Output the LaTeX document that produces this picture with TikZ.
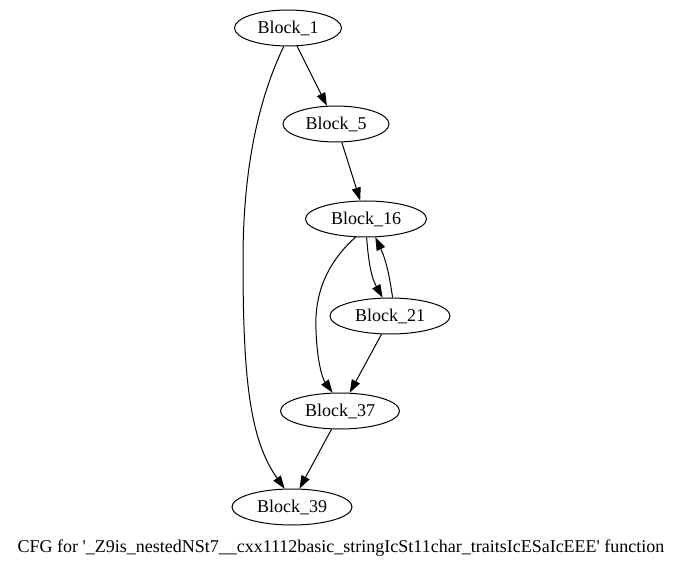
\documentclass[tikz,border=0pt]{standalone}
\usepackage{fontspec}
\setmainfont{Liberation Serif}[Ligatures=TeXOff]
\usetikzlibrary{shapes.geometric,arrows.meta}
\begin{document}
\begin{tikzpicture}[x=1pt,y=-1pt,
  blk/.style={ellipse,draw,line width=1pt,inner sep=0pt,minimum height=36pt,
    font=\fontsize{18}{20}\selectfont},
  arr/.style={draw,line width=1pt,-{Triangle[length=13pt,width=9pt]}}]
\useasboundingbox (0,0) rectangle (683,569);
\node[blk,minimum width=107pt] (b1)  at (288,28)  {Block\_1};
\node[blk,minimum width=106pt] (b5)  at (336,124) {Block\_5};
\node[blk,minimum width=121pt] (b16) at (366,219) {Block\_16};
\node[blk,minimum width=120pt] (b21) at (390,316) {Block\_21};
\node[blk,minimum width=119pt] (b37) at (340,411) {Block\_37};
\node[blk,minimum width=120pt] (b39) at (292,507) {Block\_39};
\node[font=\fontsize{18}{20}\selectfont] (cap) at (341,548)
  {CFG for '\_Z9is\_nestedNSt7\_\_cxx1112basic\_stringIcSt11char\_traitsIcESaIcEEE' function};
% control flow edges
\draw[arr] (b1) -- (b5);
\draw[arr] (b1.257) .. controls (258,100) and (243,170) .. (243,260)
  .. controls (243,380) and (250,440) .. (b39.112);
\draw[arr] (b5) -- (b16);
\draw[arr] (b16.272) .. controls (368,255) and (370,275) .. (b21.112);
\draw[arr] (b21.82) .. controls (390,280) and (387,262) .. (b16.297);
\draw[arr] (b16.240) .. controls (330,260) and (314,290) .. (316,330)
  .. controls (317,360) and (322,378) .. (b37.112);
\draw[arr] (b21.245) -- (b37.62);
\draw[arr] (b37.245) -- (b39.68);
\end{tikzpicture}
\end{document}
